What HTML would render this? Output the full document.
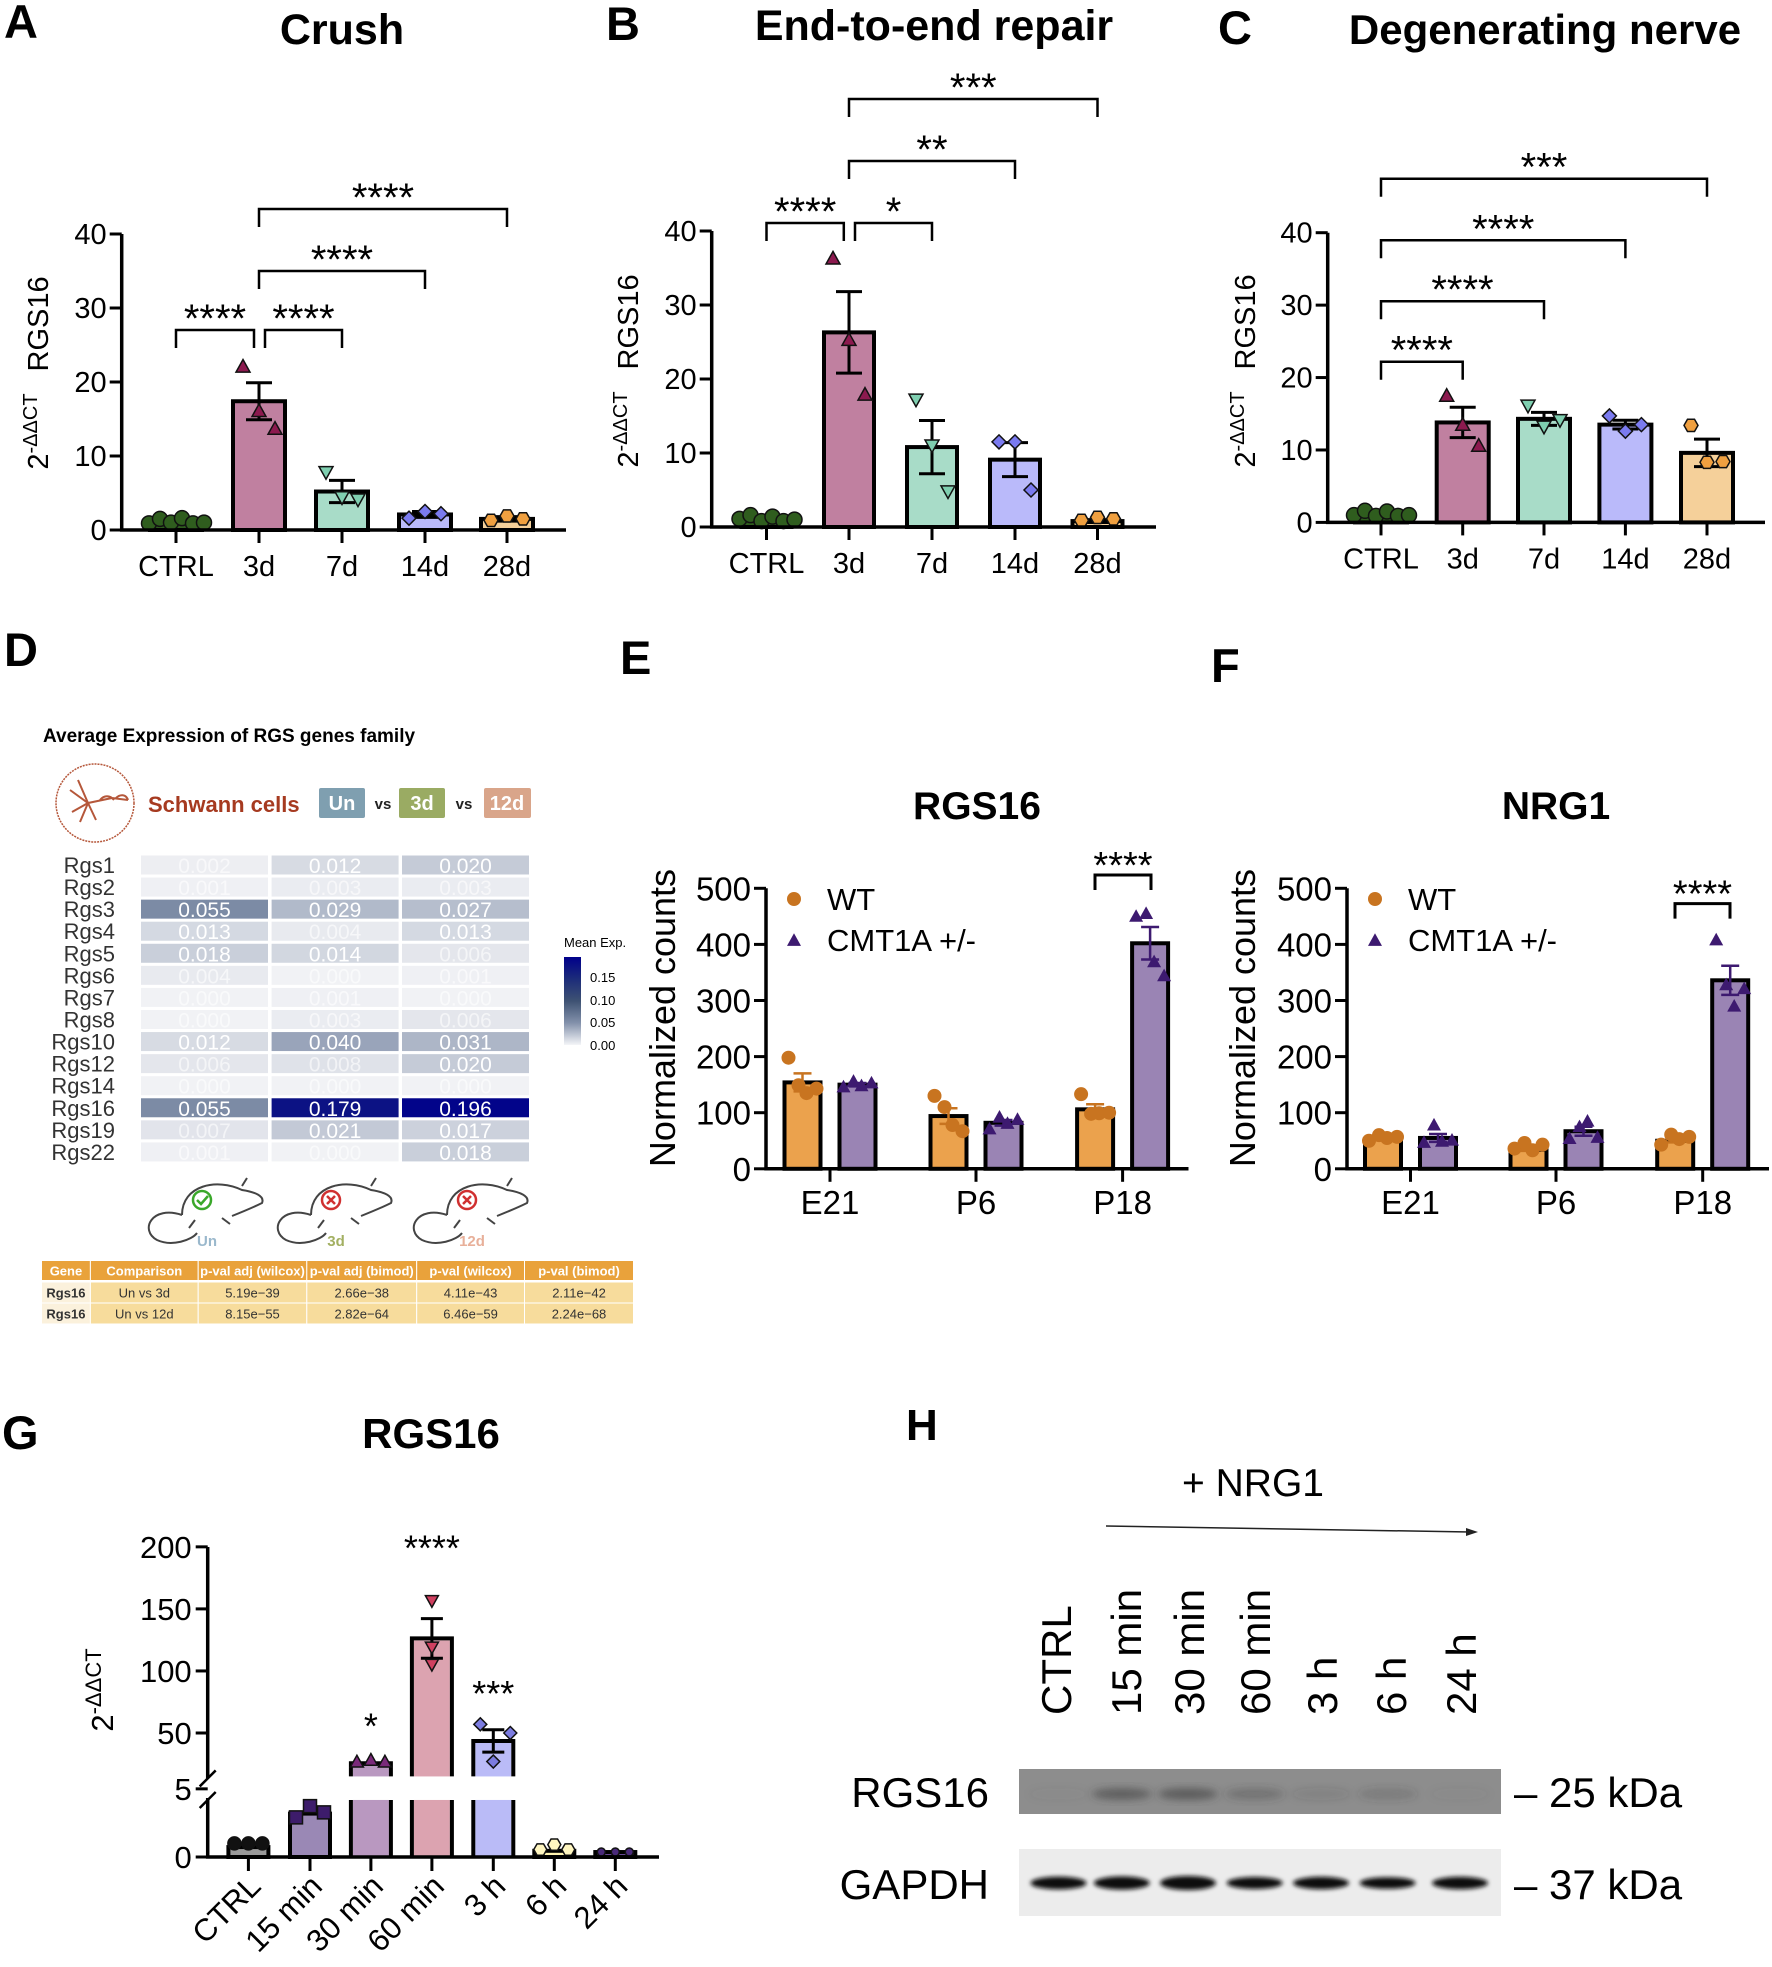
<!DOCTYPE html>
<html><head><meta charset="utf-8">
<style>
html,body{margin:0;padding:0;background:#fff;}
svg{display:block;font-family:"Liberation Sans",Arial,sans-serif;}
</style></head>
<body>
<svg id="fig" xmlns="http://www.w3.org/2000/svg" width="1772" height="1967" viewBox="0 0 1772 1967">
<defs>
<filter id="blur2" x="-50%" y="-50%" width="200%" height="200%"><feGaussianBlur stdDeviation="2.2"/></filter>
<filter id="blur4" x="-50%" y="-50%" width="200%" height="200%"><feGaussianBlur stdDeviation="4"/></filter>
<linearGradient id="cbar" x1="0" y1="1" x2="0" y2="0">
<stop offset="0" stop-color="#f4f5f8"/><stop offset="0.25" stop-color="#8391ab"/><stop offset="0.5" stop-color="#3e5273"/><stop offset="0.75" stop-color="#1c2c7a"/><stop offset="1" stop-color="#00008b"/>
</linearGradient>
</defs>
<rect x="0" y="0" width="1772" height="1967" fill="#fff"/>

<text x="4" y="38" font-size="47" font-weight="bold">A</text>
<text x="342" y="44" font-size="43" font-weight="bold" text-anchor="middle">Crush</text>
<text x="606" y="40" font-size="47" font-weight="bold">B</text>
<text x="934" y="40" font-size="43" font-weight="bold" text-anchor="middle">End-to-end repair</text>
<text x="1218" y="44" font-size="47" font-weight="bold">C</text>
<text x="1545" y="44" font-size="42" font-weight="bold" text-anchor="middle">Degenerating nerve</text>
<text x="4" y="666" font-size="47" font-weight="bold">D</text>
<text x="620" y="674" font-size="47" font-weight="bold">E</text>
<text x="977" y="819" font-size="39" font-weight="bold" text-anchor="middle">RGS16</text>
<text x="1211" y="682" font-size="47" font-weight="bold">F</text>
<text x="1556" y="819" font-size="39" font-weight="bold" text-anchor="middle">NRG1</text>
<text x="2" y="1449" font-size="47" font-weight="bold">G</text>
<text x="431" y="1448" font-size="42" font-weight="bold" text-anchor="middle">RGS16</text>
<text x="906" y="1440" font-size="44" font-weight="bold">H</text>

<g>
<text x="43" y="742" font-size="19" font-weight="bold">Average Expression of RGS genes family</text>
<g>
<circle cx="95" cy="803" r="39" fill="none" stroke="#b5573a" stroke-width="1.5" stroke-dasharray="2 1"/>
<path d="M70 790 L88 803 L112 798 M78 780 L88 803 L80 822 M88 803 L96 820 M88 803 L72 812 M112 798 L128 800 M100 800 C104 795 110 795 114 800 M116 798 C120 794 126 794 128 800" fill="none" stroke="#b5573a" stroke-width="2"/>
</g>
<text x="148" y="812" font-size="22" font-weight="bold" fill="#a63a20">Schwann cells</text>
<rect x="319" y="788" width="46" height="30" rx="2" fill="#7f9fb0"/>
<text x="342" y="810" font-size="20" font-weight="bold" fill="#fff" text-anchor="middle">Un</text>
<text x="383" y="809" font-size="15" font-weight="bold" fill="#222" text-anchor="middle">vs</text>
<rect x="399" y="788" width="46" height="30" rx="2" fill="#9aab63"/>
<text x="422" y="810" font-size="20" font-weight="bold" fill="#fff" text-anchor="middle">3d</text>
<text x="464" y="809" font-size="15" font-weight="bold" fill="#222" text-anchor="middle">vs</text>
<rect x="484" y="788" width="47" height="30" rx="2" fill="#d9a58a"/>
<text x="507" y="810" font-size="20" font-weight="bold" fill="#fff" text-anchor="middle">12d</text>
<g id="heatmap"></g>
<text x="564" y="947" font-size="13">Mean Exp.</text>
<rect x="564" y="957" width="17" height="88" fill="url(#cbar)"/>
<g font-size="13">
<text x="590" y="982">0.15</text><text x="590" y="1005">0.10</text><text x="590" y="1027">0.05</text><text x="590" y="1050">0.00</text>
</g>
<g id="mice"></g>
<g id="ptable"></g>
</g>

<g>
<text x="1182" y="1496" font-size="39">+ NRG1</text>
<line x1="1106" y1="1526" x2="1470" y2="1532" stroke="#222" stroke-width="1.5"/>
<polygon points="1478,1532 1466,1528 1466,1536" fill="#222"/>
<g id="lanes"></g>
<rect x="1019" y="1769" width="482" height="45" fill="#8d8d8d"/>
<rect x="1019" y="1849" width="482" height="67" fill="#ececec"/>
<g id="bands"></g>
<text x="989" y="1807" font-size="42" text-anchor="end">RGS16</text>
<text x="989" y="1899" font-size="42" text-anchor="end">GAPDH</text>
<text x="1514" y="1807" font-size="42">–  25 kDa</text>
<text x="1514" y="1899" font-size="42">–  37 kDa</text>
</g>

<g id="gA"></g>
<g id="gB"></g>
<g id="gC"></g>
<g id="gE"></g>
<g id="gF"></g>
<g id="gG"></g>
</svg>

<script>
const abcCategories = ["CTRL", "3d", "7d", "14d", "28d"];
const abcTicks = [0, 10, 20, 30, 40];
const crushMeans = [1.2, 17.4, 5.2, 2.1, 1.5];
const crushErr = [0.2, 2.5, 1.5, 0.4, 0.3];
const crushPoints = [[0.9, 1.5, 1.0, 1.6, 0.9, 1.0], [22.0, 16.0, 13.6], [7.9, 4.5, 4.2], [1.6, 2.5, 2.2], [1.3, 1.9, 1.5]];
const repairMeans = [1.0, 26.3, 10.8, 9.1, 0.8];
const repairErr = [0.2, 5.5, 3.6, 2.3, 0.2];
const repairPoints = [[1.1, 1.6, 0.8, 1.4, 0.8, 1.0], [36.2, 25.2, 17.8], [17.3, 11.1, 4.9], [11.5, 11.5, 5.0], [0.9, 1.3, 1.1]];
const degenMeans = [1.1, 13.8, 14.3, 13.5, 9.6];
const degenErr = [0.2, 2.1, 0.9, 0.6, 1.9];
const degenPoints = [[1.0, 1.6, 0.9, 1.5, 0.9, 1.0], [17.4, 13.4, 10.5], [16.2, 13.3, 14.2], [14.7, 12.6, 13.5], [13.4, 8.3, 8.4]];

const efCategories = ["E21", "P6", "P18"];
const efTicks = [0, 100, 200, 300, 400, 500];
const rgs16WtMeans = [154, 94, 106];
const rgs16WtErr = [16, 14, 9];
const rgs16WtPoints = [[198, 149, 135, 143], [130, 110, 78, 67], [133, 98, 99, 100]];
const rgs16CmtMeans = [150, 82, 402];
const rgs16CmtErr = [3, 5, 29];
const rgs16CmtPoints = [[145, 155, 147, 152], [70, 91, 80, 87], [449, 454, 368, 343]];
const nrg1WtMeans = [53, 34, 50];
const nrg1WtErr = [2, 2, 3];
const nrg1WtPoints = [[50, 60, 55, 57], [36, 46, 33, 43], [43, 61, 53, 57]];
const nrg1CmtMeans = [55, 67, 336];
const nrg1CmtErr = [7, 8, 26];
const nrg1CmtPoints = [[46, 77, 48, 50], [53, 74, 84, 55], [407, 327, 289, 320]];

const gCategories = ["CTRL", "15 min", "30 min", "60 min", "3 h", "6 h", "24 h"];
const gUpperTicks = [50, 100, 150, 200];
const gLowerTicks = [0, 5];
const gMeans = [0.8, 3.5, 25.6, 126.2, 43.6, 0.5, 0.4];
const gErr = [0.1, 0.3, 0.5, 16, 9, 0.1, 0.05];
const gPoints = [[1.1, 1.1, 1.1], [3.2, 4.1, 3.6], [26.3, 27.7, 26.3], [157, 119.6, 105.7], [57, 50, 27], [0.6, 1.0, 0.6], [0.4, 0.4, 0.4]];
const gStars = ["", "", "*", "****", "***", "", ""];

const genes = ["Rgs1","Rgs2","Rgs3","Rgs4","Rgs5","Rgs6","Rgs7","Rgs8","Rgs10","Rgs12","Rgs14","Rgs16","Rgs19","Rgs22"];
const unExpr = [0.002,0.001,0.055,0.013,0.018,0.004,0.000,0.000,0.012,0.006,0.000,0.055,0.007,0.001];
const d3Expr = [0.012,0.003,0.029,0.004,0.014,0.000,0.001,0.003,0.040,0.008,0.000,0.179,0.021,0.000];
const d12Expr = [0.020,0.003,0.027,0.013,0.006,0.001,0.000,0.006,0.031,0.020,0.000,0.196,0.017,0.018];
const tableHeader = ["Gene","Comparison","p-val adj (wilcox)","p-val adj (bimod)","p-val (wilcox)","p-val (bimod)"];
const tableRow1 = ["Rgs16","Un vs 3d","5.19e\u221239","2.66e\u221238","4.11e\u221243","2.11e\u221242"];
const tableRow2 = ["Rgs16","Un vs 12d","8.15e\u221255","2.82e\u221264","6.46e\u221259","2.24e\u221268"];

const laneLabels = ["CTRL","15 min","30 min","60 min","3 h","6 h","24 h"];
const rgs16Band = [0.05, 0.55, 0.6, 0.3, 0.12, 0.2, 0.05];
const gapdhBand = [0.85, 0.9, 1.0, 0.75, 0.8, 0.7, 0.8];

const NS = "http://www.w3.org/2000/svg";
function mk(tag, attrs, parent) {
  const e = document.createElementNS(NS, tag);
  for (const k in attrs) e.setAttribute(k, attrs[k]);
  parent.appendChild(e);
  return e;
}
function marker(shape, cx, cy, s, fill, stroke, parent) {
  let e;
  if (shape === "circle") e = mk("circle", {cx: cx, cy: cy, r: s, fill: fill, stroke: stroke, "stroke-width": 1.5}, parent);
  else {
    let p;
    if (shape === "up") p = [[0,-s*1.1],[s,s*0.7],[-s,s*0.7]];
    else if (shape === "down") p = [[-s,-s*0.7],[s,-s*0.7],[0,s*1.1]];
    else if (shape === "diamond") p = [[0,-s],[s,0],[0,s],[-s,0]];
    else if (shape === "square") p = [[-s,-s],[s,-s],[s,s],[-s,s]];
    else p = [[-s,0],[-s/2,-s*0.87],[s/2,-s*0.87],[s,0],[s/2,s*0.87],[-s/2,s*0.87]];
    e = mk("polygon", {points: p.map(q => (cx+q[0]) + "," + (cy+q[1])).join(" "), fill: fill, stroke: stroke, "stroke-width": 1.5}, parent);
  }
  return e;
}

const abcFills = ["#2f5d1e", "#c080a0", "#a8dcc8", "#babafa", "#f5d09a"];
const abcMarkFill = ["#2f5d1e", "#8c1a4f", "#7fcfb0", "#7b7bf0", "#f0a040"];
const abcShapes = ["circle", "up", "down", "diamond", "hex"];
function drawABC(g, cfg, means, errs, pts) {
  const y = v => cfg.y0 - v * (cfg.y0 - cfg.yTop) / 40;
  const xOf = i => cfg.xs[i];
  means.forEach((m, i) => {
    const b = mk("rect", {x: xOf(i) - cfg.hw, y: y(m), width: cfg.hw * 2, height: cfg.y0 - y(m), fill: abcFills[i], stroke: "#000", "stroke-width": 4}, g);
    
    
  });
  means.forEach((m, i) => {
    const e = mk("path", {d: "M" + xOf(i) + " " + y(m + errs[i]) + " V" + y(m - errs[i]) + " M" + (xOf(i) - 13) + " " + y(m + errs[i]) + " h26 M" + (xOf(i) - 13) + " " + y(m - errs[i]) + " h26", stroke: "#000", "stroke-width": 3, fill: "none"}, g);
    
    
  });
  pts.forEach((arr, i) => {
    const offs = arr.length === 6 ? [-27, -16, -5, 6, 17, 28] : [-16, 0, 16];
    arr.forEach((v, j) => {
      const p = marker(abcShapes[i], xOf(i) + offs[j], y(v), i === 0 ? 7.5 : 7, abcMarkFill[i], "#111", g);
      
      
    });
  });
  const ax = mk("path", {d: "M" + cfg.ax + " " + cfg.yTop + " V" + cfg.y0 + " H" + cfg.xEnd, stroke: "#000", "stroke-width": 3.5, fill: "none"}, g);
  
  
  abcTicks.forEach(t => {
    const tk = mk("line", {x1: cfg.ax - 12, x2: cfg.ax, y1: y(t), y2: y(t), stroke: "#000", "stroke-width": 3}, g);
    
    
    const tl = mk("text", {x: cfg.ax - 15, y: y(t) + 10, "font-size": 29, "text-anchor": "end"}, g);
    tl.textContent = t;
    
    
  });
  abcCategories.forEach((c, i) => {
    const tk = mk("line", {x1: xOf(i), x2: xOf(i), y1: cfg.y0, y2: cfg.y0 + 13, stroke: "#000", "stroke-width": 3}, g);
    
    
    const tl = mk("text", {x: xOf(i), y: cfg.y0 + 46, "font-size": 29, "text-anchor": "middle"}, g);
    tl.textContent = c;
    
    
  });
  const yt = mk("text", {transform: "translate(" + cfg.ylx + "," + cfg.yly + ") rotate(-90)", "font-size": 29, "text-anchor": "middle"}, g);
  yt.innerHTML = '2<tspan font-size="20" dy="-11">-ΔΔCT</tspan><tspan dy="11" dx="22">RGS16</tspan>';
  
  
  cfg.brackets.forEach(bk => {
    const b = mk("path", {d: "M" + bk[0] + " " + (bk[2] + 18) + " V" + bk[2] + " H" + bk[1] + " V" + (bk[2] + 18), stroke: "#000", "stroke-width": 2.5, fill: "none"}, g);
    
    
    const s = mk("text", {x: (bk[0] + bk[1]) / 2, y: bk[2] + 2, "font-size": 40, "text-anchor": "middle"}, g);
    s.textContent = bk[3];
    
    
  });
}
drawABC(document.getElementById("gA"), {ax: 121.7, y0: 530, yTop: 234, xs: [176, 259, 342, 425, 507], xEnd: 566, hw: 26, ylx: 48, yly: 373,
  brackets: [[176, 254, 330, "****"], [265, 342, 330, "****"], [259, 425, 271, "****"], [259, 507, 209, "****"]]}, crushMeans, crushErr, crushPoints);
drawABC(document.getElementById("gB"), {ax: 711.7, y0: 527, yTop: 231, xs: [766.5, 849, 932, 1015, 1097.5], xEnd: 1156, hw: 25, ylx: 638, yly: 371,
  brackets: [[766.5, 843.8, 223, "****"], [855, 932, 223, "*"], [849, 1015, 161, "**"], [849, 1097.5, 99, "***"]]}, repairMeans, repairErr, repairPoints);
drawABC(document.getElementById("gC"), {ax: 1327.7, y0: 522.4, yTop: 232.7, xs: [1381, 1462.7, 1544, 1625.4, 1707], xEnd: 1765, hw: 26, ylx: 1255, yly: 371,
  brackets: [[1381, 1462.7, 361.7, "****"], [1381, 1544, 301.2, "****"], [1381, 1625.4, 240.3, "****"], [1381, 1707, 178.7, "***"]]}, degenMeans, degenErr, degenPoints);

function drawEF(g, cfg, wtM, wtE, wtP, cmM, cmE, cmP) {
  const y = v => cfg.y0 - v * (cfg.y0 - cfg.y500) / 500;
  const groups = [[wtM, wtE, wtP, -27.5, "#eba24d", "#c87420", "circle", "wt"], [cmM, cmE, cmP, 27.5, "#9a84b4", "#3d1a70", "up", "cmt1a"]];
  groups.forEach(gr => {
    gr[0].forEach((m, i) => {
      const cx = cfg.xs[i] + gr[3];
      const b = mk("rect", {x: cx - 18, y: y(m), width: 36, height: cfg.y0 - y(m), fill: gr[4], stroke: "#000", "stroke-width": 4}, g);
      
      
      const e = mk("path", {d: "M" + cx + " " + y(m + gr[1][i]) + " V" + y(m - gr[1][i]) + " M" + (cx - 9) + " " + y(m + gr[1][i]) + " h18 M" + (cx - 9) + " " + y(m - gr[1][i]) + " h18", stroke: gr[5], "stroke-width": 2.5, fill: "none"}, g);
      
      
      gr[2][i].forEach((v, j) => {
        const p = marker(gr[6], cx + [-14, -4, 4, 14][j], y(v), 7, gr[5], "none", g);
        
        
      });
    });
  });
  const ax = mk("path", {d: "M" + cfg.ax + " " + cfg.y500 + " V" + cfg.y0 + " H" + cfg.xEnd, stroke: "#000", "stroke-width": 3.5, fill: "none"}, g);
  
  
  efTicks.forEach(t => {
    const tk = mk("line", {x1: cfg.ax - 12, x2: cfg.ax, y1: y(t), y2: y(t), stroke: "#000", "stroke-width": 3}, g);
    
    
    const tl = mk("text", {x: cfg.ax - 15, y: y(t) + 12, "font-size": 33, "text-anchor": "end"}, g);
    tl.textContent = t;
    
    
  });
  efCategories.forEach((c, i) => {
    const tk = mk("line", {x1: cfg.xs[i], x2: cfg.xs[i], y1: cfg.y0, y2: cfg.y0 + 13, stroke: "#000", "stroke-width": 3}, g);
    
    
    const tl = mk("text", {x: cfg.xs[i], y: cfg.y0 + 45, "font-size": 33, "text-anchor": "middle"}, g);
    tl.textContent = c;
    
    
  });
  const yt = mk("text", {transform: "translate(" + cfg.ylx + "," + cfg.yly + ") rotate(-90)", "font-size": 36, "text-anchor": "middle"}, g);
  yt.textContent = "Normalized counts";
  
  
  const l1 = marker("circle", cfg.lx, cfg.ly, 7, "#c87420", "none", g);
  
  
  const t1 = mk("text", {x: cfg.lx + 33, y: cfg.ly + 11, "font-size": 31}, g);
  t1.textContent = "WT";
  
  
  const l2 = marker("up", cfg.lx, cfg.ly + 42, 7, "#3d1a70", "none", g);
  
  
  const t2 = mk("text", {x: cfg.lx + 33, y: cfg.ly + 52, "font-size": 31}, g);
  t2.textContent = "CMT1A +/-";
  
  
  const bk = mk("path", {d: "M" + cfg.bx1 + " " + (cfg.by + 15) + " V" + cfg.by + " H" + cfg.bx2 + " V" + (cfg.by + 15), stroke: "#000", "stroke-width": 3, fill: "none"}, g);
  
  
  const s = mk("text", {x: (cfg.bx1 + cfg.bx2) / 2, y: cfg.by + 3, "font-size": 38, "text-anchor": "middle"}, g);
  s.textContent = "****";
  
  
}
drawEF(document.getElementById("gE"), {ax: 766, y0: 1168.8, y500: 888.3, xs: [830, 976, 1122.6], xEnd: 1188.5, ylx: 675, yly: 1018, lx: 794, ly: 899, bx1: 1095, bx2: 1151, by: 875},
  rgs16WtMeans, rgs16WtErr, rgs16WtPoints, rgs16CmtMeans, rgs16CmtErr, rgs16CmtPoints);
drawEF(document.getElementById("gF"), {ax: 1347, y0: 1168.8, y500: 888.3, xs: [1410.5, 1556, 1702.7], xEnd: 1769, ylx: 1255, yly: 1018, lx: 1375, ly: 899, bx1: 1675, bx2: 1730, by: 903.6},
  nrg1WtMeans, nrg1WtErr, nrg1WtPoints, nrg1CmtMeans, nrg1CmtErr, nrg1CmtPoints);

(function () {
  const g = document.getElementById("gG");
  const ax = 207.7, y0 = 1857, lowK = 12.4, y50 = 1733, upK = 1.241;
  const lowTopV = 4.6, upBotV = 15;
  const y = v => v <= lowTopV ? y0 - v * lowK : y50 - (v - 50) * upK;
  const yLowTop = y0 - lowTopV * lowK, yUpBot = y50 - (upBotV - 50) * upK;
  const xs = [248.4, 310, 370.9, 431.9, 493.3, 554.3, 615.3];
  const fills = ["#999999", "#9a88b5", "#b998c0", "#dca3b0", "#babbf7", "#fff4b0", "#6a4a9a"];
  const mfill = ["#111111", "#3d1c6b", "#7a2a7a", "#d04060", "#7c7ce0", "#fff6c0", "#4a2a7a"];
  const shapes = ["circle", "square", "up", "down", "diamond", "hex", "circle"];
  gMeans.forEach((m, i) => {
    let b;
    if (m <= lowTopV) {
      b = mk("rect", {x: xs[i] - 20, y: y(m), width: 40, height: y0 - y(m), fill: fills[i], stroke: "#000", "stroke-width": 4}, g);
    } else {
      const f1 = mk("rect", {x: xs[i] - 18, y: yLowTop, width: 36, height: y0 - yLowTop, fill: fills[i]}, g);
      
      
      const f2 = mk("rect", {x: xs[i] - 18, y: y(m) + 2, width: 36, height: yUpBot - y(m) - 2, fill: fills[i]}, g);
      
      
      b = mk("path", {d: "M" + (xs[i] - 20) + " " + y0 + " V" + yLowTop + " M" + (xs[i] + 20) + " " + yLowTop + " V" + y0 + " M" + (xs[i] - 20) + " " + yUpBot + " V" + y(m) + " H" + (xs[i] + 20) + " V" + yUpBot, stroke: "#000", "stroke-width": 4, fill: "none"}, g);
    }
    
    
    if (gErr[i] > 2) {
      const e = mk("path", {d: "M" + xs[i] + " " + y(m + gErr[i]) + " V" + y(m - gErr[i]) + " M" + (xs[i] - 11) + " " + y(m + gErr[i]) + " h22 M" + (xs[i] - 11) + " " + y(m - gErr[i]) + " h22", stroke: "#000", "stroke-width": 3, fill: "none"}, g);
      
      
    }
    gPoints[i].forEach((v, j) => {
      const offs = i === 3 ? [0, 0, 0] : (i === 4 ? [-13, 17, 0] : [-14, 0, 14]);
      const p = marker(shapes[i], xs[i] + offs[j], y(v), i === 6 ? 4 : 6.5, mfill[i], "#111", g);
      
      
    });
    if (gStars[i]) {
      const s = mk("text", {x: xs[i], y: y(m + gErr[i]) - (i === 3 ? 58 : 24), "font-size": 36, "text-anchor": "middle"}, g);
      s.textContent = gStars[i];
      
      
    }
  });
  const axp = mk("path", {d: "M" + ax + " 1547 V" + (yUpBot + 2) + " M" + ax + " " + (yLowTop - 2) + " V" + y0 + " H659", stroke: "#000", "stroke-width": 3.5, fill: "none"}, g);
  
  
  const br = mk("path", {d: "M" + (ax - 8) + " " + (yUpBot + 10) + " L" + (ax + 8) + " " + (yUpBot - 6) + " M" + (ax - 8) + " " + (yLowTop + 8) + " L" + (ax + 8) + " " + (yLowTop - 8), stroke: "#000", "stroke-width": 2.5}, g);
  
  
  gUpperTicks.concat(gLowerTicks).forEach(t => {
    const tk = mk("line", {x1: ax - 12, x2: ax, y1: y(t), y2: y(t), stroke: "#000", "stroke-width": 3}, g);
    
    
    const tl = mk("text", {x: ax - 16, y: y(t) + 11, "font-size": 31, "text-anchor": "end"}, g);
    tl.textContent = t;
    
    
  });
  gCategories.forEach((c, i) => {
    const tk = mk("line", {x1: xs[i], x2: xs[i], y1: y0, y2: y0 + 14, stroke: "#000", "stroke-width": 3}, g);
    
    
    const tl = mk("text", {transform: "translate(" + (xs[i] + 14) + ",1888) rotate(-45)", "font-size": 31, "text-anchor": "end"}, g);
    tl.textContent = c;
    
    
  });
  const yt = mk("text", {transform: "translate(113,1690) rotate(-90)", "font-size": 31, "text-anchor": "middle"}, g);
  yt.innerHTML = '2<tspan font-size="22" dy="-12">-ΔΔCT</tspan>';
  
  
})();

function heatColor(v) {
  const stops = [[0, [241, 242, 245]], [0.05, [131, 145, 171]], [0.10, [62, 82, 115]], [0.15, [28, 44, 122]], [0.2, [0, 0, 139]]];
  for (let k = 1; k < stops.length; k++) {
    if (v <= stops[k][0]) {
      const a = stops[k - 1], b = stops[k], t = (v - a[0]) / (b[0] - a[0]);
      return "rgb(" + a[1].map((c, n) => Math.round(c + (b[1][n] - c) * t)).join(",") + ")";
    }
  }
  return "rgb(0,0,139)";
}
(function () {
  const g = document.getElementById("heatmap");
  const colX = [141, 271.6, 402], cw = 127, rh = 19;
  const cols = [unExpr, d3Expr, d12Expr];
  genes.forEach((gene, r) => {
    const cy = 865 + r * 22.07;
    const lb = mk("text", {x: 115, y: cy + 8, "font-size": 22, fill: "#333", "text-anchor": "end"}, g);
    lb.textContent = gene;
    
    
    cols.forEach((arr, c) => {
      const cell = mk("rect", {x: colX[c], y: cy - rh / 2, width: cw, height: rh, fill: heatColor(arr[r])}, g);
      
      
      const tx = mk("text", {x: colX[c] + cw / 2, y: cy + 8, "font-size": 21, fill: "#fff", "text-anchor": "middle", "fill-opacity": arr[r] < 0.01 ? 0.6 : 1}, g);
      tx.textContent = arr[r].toFixed(3);
      
      
    });
  });
  const mg = document.getElementById("mice");
  const mice = [[207, "Un", "#9ab8cc", true], [336, "3d", "#a3b062", false], [472, "12d", "#e8b09a", false]];
  mice.forEach(mo => {
    const x = mo[0], y = 1200;
    const body = mk("path", {d: "M" + (x - 25) + " " + (y + 15) + " C" + (x - 25) + " " + (y - 15) + " " + (x + 10) + " " + (y - 22) + " " + (x + 35) + " " + (y - 10) + " C" + (x + 48) + " " + (y - 8) + " " + (x + 58) + " " + (y - 4) + " " + (x + 55) + " " + (y + 3) + " C" + (x + 45) + " " + (y + 8) + " " + (x + 35) + " " + (y + 12) + " " + (x + 25) + " " + (y + 16) + " M" + (x - 25) + " " + (y + 15) + " C" + (x - 55) + " " + (y + 5) + " " + (x - 68) + " " + (y + 30) + " " + (x - 50) + " " + (y + 40) + " C" + (x - 35) + " " + (y + 47) + " " + (x - 15) + " " + (y + 40) + " " + (x - 10) + " " + (y + 33) + " M" + (x - 12) + " " + (y + 20) + " l-6 8 M" + (x + 15) + " " + (y + 18) + " l8 6 M" + (x + 35) + " " + (y - 14) + " l5 -8", fill: "none", stroke: "#444", "stroke-width": 2}, mg);
    
    
    const c = mk("circle", {cx: x - 5, cy: y, r: 9, fill: "#fff", stroke: mo[3] ? "#3aa82a" : "#d03030", "stroke-width": 2.5}, mg);
    
    
    const sym = mk("path", {d: mo[3] ? "M" + (x - 10) + " " + y + " l4 4 l7 -8" : "M" + (x - 9) + " " + (y - 4) + " l8 8 M" + (x - 1) + " " + (y - 4) + " l-8 8", stroke: mo[3] ? "#3aa82a" : "#d03030", "stroke-width": 2.5, fill: "none"}, mg);
    
    
    const lb = mk("text", {x: x, y: 1246, "font-size": 15, "font-weight": "bold", fill: mo[2], "text-anchor": "middle"}, mg);
    lb.textContent = mo[1];
    
    
  });
  const tg = document.getElementById("ptable");
  const edges = [41.5, 90.4, 198.2, 306.8, 416.7, 524.5, 633.5];
  const rows = [[tableHeader, 1260.5, 20, "#e9a23b", "#fff", "bold"], [tableRow1, 1282, 21, "#f7dc9c", "#333", "normal"], [tableRow2, 1303, 21, "#f7dc9c", "#333", "normal"]];
  rows.forEach((row, ri) => {
    row[0].forEach((txt, ci) => {
      const bg = ri > 0 && ci === 0 ? "#fbf1dc" : row[3];
      const cell = mk("rect", {x: edges[ci], y: row[1], width: edges[ci + 1] - edges[ci], height: row[2], fill: bg, stroke: "#fff", "stroke-width": 1}, tg);
      
      
      const t = mk("text", {x: (edges[ci] + edges[ci + 1]) / 2, y: row[1] + row[2] / 2 + 5, "font-size": 13, "font-weight": ci === 0 && ri > 0 ? "bold" : row[5], fill: row[4], "text-anchor": "middle"}, tg);
      t.textContent = txt;
      
      
    });
  });
})();

(function () {
  const lg = document.getElementById("lanes");
  const lx = [1071, 1141, 1204, 1270, 1337, 1406, 1476];
  const bx = [1058.5, 1121.8, 1188, 1254.7, 1321, 1387.6, 1460];
  laneLabels.forEach((l, i) => {
    const t = mk("text", {transform: "translate(" + lx[i] + ",1715) rotate(-90)", "font-size": 42}, lg);
    t.textContent = l;
    
    
  });
  const bg = document.getElementById("bands");
  rgs16Band.forEach((v, i) => {
    const b = mk("ellipse", {cx: bx[i], cy: 1794, rx: 30, ry: 6, fill: "#3a3a3a", "fill-opacity": v, filter: "url(#blur4)"}, bg);
    
    
  });
  gapdhBand.forEach((v, i) => {
    const b = mk("ellipse", {cx: bx[i], cy: 1883, rx: 28, ry: 3 + 4 * v, fill: "#111", filter: "url(#blur2)"}, bg);
    
    
  });
})();
</script>
</body></html>
